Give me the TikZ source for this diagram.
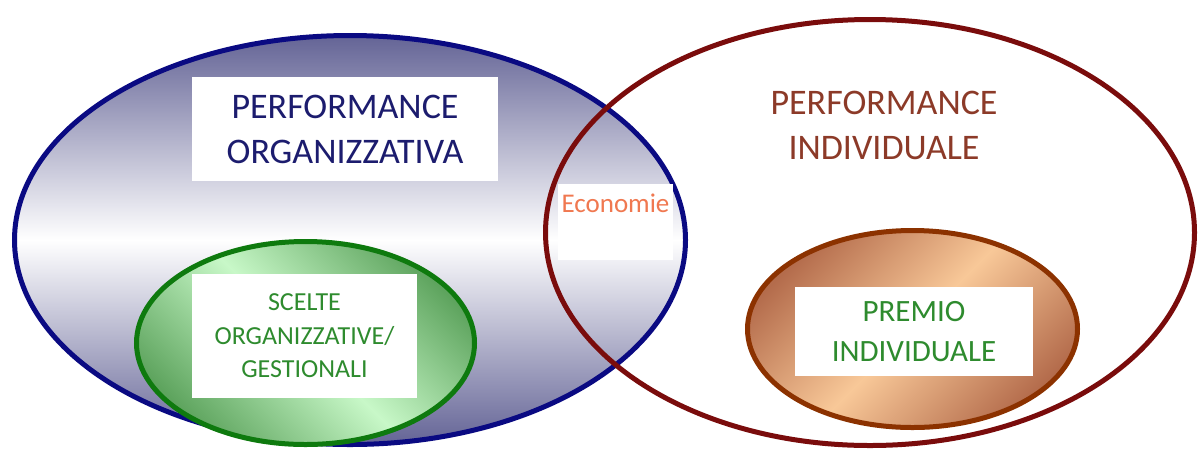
\documentclass[tikz,border=0pt]{standalone}
\usepackage{fontspec}
\setmainfont{Carlito}

% Colori
\definecolor{blu}{HTML}{0A0A82}
\definecolor{blutesto}{HTML}{1C1C6E}
\definecolor{blufondo}{HTML}{646496}
\definecolor{rosso}{HTML}{7A0C0C}
\definecolor{marrone}{HTML}{8C3A28}
\definecolor{verde}{HTML}{0E7A0E}
\definecolor{verdescuro}{HTML}{5EA45E}
\definecolor{verdechiaro}{HTML}{C8F8C8}
\definecolor{verdetesto}{HTML}{2E8B2E}
\definecolor{bronzo}{HTML}{8C3200}
\definecolor{bronzoscuro}{HTML}{B46C4C}
\definecolor{bronzochiaro}{HTML}{F8C898}
\definecolor{arancio}{HTML}{F07850}

\begin{document}
\begin{tikzpicture}[x=1pt,y=-1pt,
    box/.style={fill=white, inner sep=0pt, align=center},
    bordo/.style={line width=5pt}]

    \useasboundingbox (0,0) rectangle (1198,451);

    % Centri delle ellissi
    \coordinate (O) at (350,240);     % Organizzativa
    \coordinate (S) at (305.5,343);   % Scelte
    \coordinate (I) at (870,232.5);   % Individuale
    \coordinate (P) at (912.5,329);   % Premio

    % Ellisse blu con sfumatura
    \draw[bordo, blu, top color=blufondo, bottom color=blufondo, middle color=white]
        (O) ellipse [x radius=335.5, y radius=204.5];

    % Ellisse verde
    \draw[bordo, verde, top color=verdescuro, bottom color=verdescuro, middle color=verdechiaro, shading angle=-45]
        (S) ellipse [x radius=169, y radius=101.5];

    % Ellisse rossa (vuota)
    \draw[bordo, rosso] (I) ellipse [x radius=324.5, y radius=213];

    % Ellisse del premio
    \draw[bordo, bronzo, top color=bronzoscuro, bottom color=bronzoscuro, middle color=bronzochiaro, shading angle=45]
        (P) ellipse [x radius=165, y radius=98.5];

    % Riquadri e testi
    \node[box, minimum width=306, minimum height=104, text=blutesto, font=\fontsize{36}{45}\selectfont]
        (org) at (345,129) {PERFORMANCE\\ORGANIZZATIVA};
    \node[box, minimum width=225, minimum height=124, text=verdetesto, font=\fontsize{26}{33.5}\selectfont]
        (scelte) at (304.5,336) {SCELTE\\ORGANIZZATIVE/\\GESTIONALI};
    \node[box, minimum width=115, minimum height=76] (ecobox) at (615.5,222) {};
    \node[text=arancio, inner sep=0pt, font=\fontsize{27}{30}\selectfont] (eco) at (615.5,203) {Economie};
    \node[text=marrone, inner sep=0pt, align=center, font=\fontsize{36}{45}\selectfont]
        (ind) at (884,125) {PERFORMANCE\\INDIVIDUALE};
    \node[box, minimum width=238, minimum height=89, text=verdetesto, font=\fontsize{31}{40}\selectfont]
        (premio) at (914,331.5) {PREMIO\\INDIVIDUALE};

\end{tikzpicture}
\end{document}
